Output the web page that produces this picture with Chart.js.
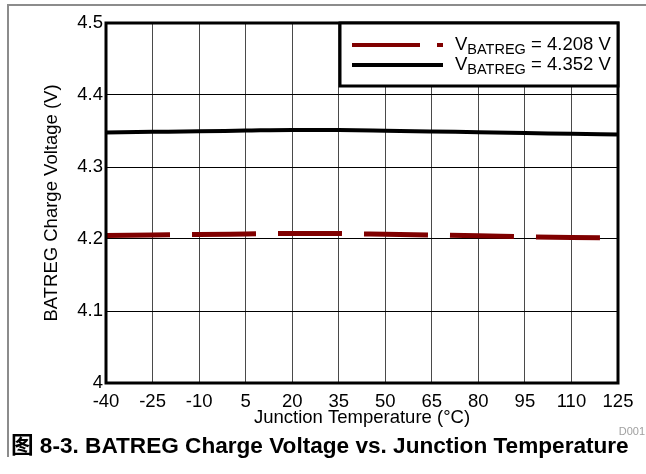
<!DOCTYPE html>
<html>
<head>
<meta charset="utf-8">
<script src="https://cdn.jsdelivr.net/npm/chart.js@4.4.1/dist/chart.umd.min.js"></script>
<style>
body { margin: 0; background: #fff; }
#wrap { position: relative; width: 646px; height: 474px; overflow: hidden; font-family: "Liberation Sans", Arial, "Noto Sans CJK SC", sans-serif; }
#frame { position: absolute; left: 7px; top: 4px; width: 640px; height: 451px; border-left: 2px solid #8c8c8c; border-top: 2px solid #8c8c8c; }
#chart { position: absolute; left: 0; top: 0; }
#caption { position: absolute; left: 11px; top: 433px; font-weight: bold; font-size: 22.6px; line-height: 26px; white-space: nowrap; color: #000; }
#code { position: absolute; right: 1px; top: 425px; font-size: 11px; color: #a0a0a0; }
</style>
</head>
<body>
<div id="wrap">
	<div id="frame"></div>
	<canvas id="chart" width="646" height="474"></canvas>
	<div id="code">D001</div>
	<div id="caption">图 8-3. BATREG Charge Voltage vs. Junction Temperature</div>
</div>
<script>
// junction temperature (°C)
var temps = [-40, -25, -10, 5, 20, 35, 50, 65, 80, 95, 110, 125]
// charge voltage (V) for the two regulation settings
var vbat4208 = [4.2050, 4.2056, 4.2062, 4.2070, 4.2078, 4.2076, 4.2066, 4.2056, 4.2045, 4.2032, 4.2022, 4.2016]
var vbat4352 = [4.3480, 4.3488, 4.3496, 4.3506, 4.3515, 4.3514, 4.3505, 4.3494, 4.3482, 4.3471, 4.3461, 4.3450]
var seriesNames = ['4.208 V', '4.352 V']
var xTicks = { min: -40, max: 125, step: 15 }
var yTicks = { min: 4, max: 4.5, step: 0.1 }

function points(values) {
	return temps.map(function(t, i) { return { x: t, y: values[i] } })
}

var FONT = '"Liberation Sans", Arial, sans-serif'

// plot frame + legend box, drawn on top of the grid
var framePlugin = {
	id: 'frameAndLegend',
	afterDraw: function(chart) {
		var ctx = chart.ctx
		var a = chart.chartArea
		ctx.save()
		ctx.strokeStyle = '#000'
		ctx.lineWidth = 3
		ctx.strokeRect(a.left, a.top, a.right - a.left, a.bottom - a.top)

		// legend box
		var bx = 340, by = a.top, bw = a.right - bx, bh = 63
		ctx.fillStyle = '#fff'
		ctx.fillRect(bx, by, bw, bh)
		ctx.strokeRect(bx, by, bw, bh)

		var rows = [
			{ color: '#800000', dash: [68, 17], y: by + 22, label: seriesNames[0] },
			{ color: '#000', dash: [], y: by + 42, label: seriesNames[1] }
		]
		rows.forEach(function(r) {
			ctx.beginPath()
			ctx.setLineDash(r.dash)
			ctx.lineWidth = 4
			ctx.strokeStyle = r.color
			ctx.moveTo(352, r.y)
			ctx.lineTo(443, r.y)
			ctx.stroke()
			ctx.setLineDash([])

			ctx.fillStyle = '#000'
			ctx.textBaseline = 'middle'
			ctx.textAlign = 'left'
			var x = 455
			ctx.font = '18.5px ' + FONT
			ctx.fillText('V', x, r.y)
			x += ctx.measureText('V').width
			ctx.font = '14.5px ' + FONT
			ctx.fillText('BATREG', x, r.y + 5)
			x += ctx.measureText('BATREG').width
			ctx.font = '18.5px ' + FONT
			ctx.fillText(' = ' + r.label, x, r.y)
		})
		ctx.restore()
	}
}

var ctx = document.getElementById('chart').getContext('2d')
var chart = new Chart(ctx, {
	type: 'line',
	data: {
		datasets: [
			{
				label: 'VBATREG = ' + seriesNames[0],
				data: points(vbat4208),
				borderColor: '#800000',
				borderWidth: 5,
				borderDash: [64, 22],
				pointRadius: 0,
				cubicInterpolationMode: 'monotone',
				fill: false
			},
			{
				label: 'VBATREG = ' + seriesNames[1],
				data: points(vbat4352),
				borderColor: '#000',
				borderWidth: 4,
				pointRadius: 0,
				cubicInterpolationMode: 'monotone',
				fill: false
			}
		]
	},
	options: {
		responsive: false,
		animation: false,
		devicePixelRatio: 1,
		layout: { padding: { left: 0, top: 23, right: 28, bottom: 0 } },
		plugins: { legend: { display: false }, tooltip: { enabled: false } },
		scales: {
			x: {
				type: 'linear',
				min: xTicks.min,
				max: xTicks.max,
				afterFit: function(s) { s.height = 91 },
				border: { display: false },
				grid: { color: '#4a4a4a', lineWidth: 1, drawTicks: false },
				ticks: {
					stepSize: xTicks.step,
					autoSkip: false,
					maxRotation: 0,
					padding: 8,
					color: '#000',
					font: { family: FONT, size: 18.5 }
				},
				title: {
					display: true,
					text: 'Junction Temperature (°C)',
					color: '#000',
					font: { family: FONT, size: 18.5 },
					padding: { top: 0, bottom: 45 }
				}
			},
			y: {
				min: yTicks.min,
				max: yTicks.max,
				afterFit: function(s) { s.width = 106 },
				border: { display: false },
				grid: { color: '#000', lineWidth: 1, drawTicks: false },
				ticks: {
					stepSize: yTicks.step,
					padding: 3,
					color: '#000',
					font: { family: FONT, size: 18.5 },
					callback: function(v) { return String(+v.toFixed(2)) }
				},
				title: {
					display: true,
					text: 'BATREG Charge Voltage (V)',
					color: '#000',
					font: { family: FONT, size: 18.5 },
					padding: { top: 41, bottom: 0 }
				}
			}
		}
	},
	plugins: [framePlugin]
})
</script>
</body>
</html>
